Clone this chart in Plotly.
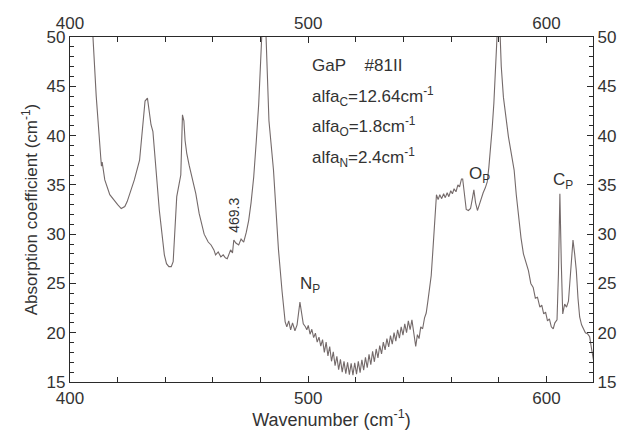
import plotly.graph_objects as go

# ---- data ----
wavenumber_a = [408.5, 409.5, 411.0, 412.9, 413.2, 413.5, 414.6, 416.7, 418.5, 420.0, 421.5, 423.0,
                424.0, 425.0, 427.0, 429.2, 430.5, 431.5, 432.5, 433.3, 434.0, 434.8, 435.4, 436.5,
                437.5, 439.6, 440.5, 441.5, 442.5, 443.3, 444.2, 444.8, 445.8, 446.5, 447.2, 447.8,
                448.3, 449.0, 450.0, 452.8, 454.2, 456.3, 458.0, 459.2, 460.4, 461.1, 462.2, 463.3,
                464.3, 465.2, 466.0, 467.4, 468.2, 468.75, 469.6, 470.8, 471.8, 472.9, 474.0, 475.0,
                476.0, 477.1, 478.2, 479.2, 480.0, 480.5, 481.2, 482.0, 482.6, 483.5, 485.4, 487.5,
                489.0, 489.6, 490.3, 491.0, 491.8, 492.6, 493.4, 494.4, 495.3, 496.5, 497.2, 497.9,
                498.8, 499.4]
absorption_a = [55.0, 50.5, 44.0, 37.8, 36.9, 37.3, 35.5, 34.0, 33.4, 33.0, 32.6, 32.8,
                33.3, 34.0, 35.5, 37.5, 40.5, 43.5, 43.8, 42.0, 41.1, 40.4, 38.5, 35.5,
                32.4, 27.9, 27.0, 26.7, 26.7, 27.2, 30.5, 33.8, 35.1, 36.0, 42.1, 41.5,
                39.5, 38.2, 37.0, 34.1, 32.1, 30.0, 29.2, 28.9, 28.4, 27.9, 28.2, 27.7,
                27.9, 27.6, 27.5, 28.4, 28.1, 29.4, 29.1, 28.9, 29.5, 29.2, 30.2, 31.4,
                33.2, 35.8, 39.5, 43.2, 47.5, 52.0, 54.0, 52.0, 47.0, 41.5, 36.5, 28.4,
                24.2, 22.9, 21.1, 20.6, 21.2, 20.3, 21.0, 20.2, 20.8, 23.1, 22.0, 20.9,
                20.6, 20.3]

wavenumber_b = [500.0, 500.75, 501.5, 502.25, 503.0, 503.75, 504.5, 505.25, 506.0, 506.75, 507.5,
                508.25, 509.0, 509.75, 510.5, 511.25, 512.0, 512.75, 513.5, 514.25, 515.0, 515.75,
                516.5, 517.25, 518.0, 518.75, 519.5, 520.25, 521.0, 521.75, 522.5, 523.25, 524.0,
                524.75, 525.5, 526.25, 527.0, 527.75, 528.5, 529.25, 530.0, 530.75, 531.5, 532.25,
                533.0, 533.75, 534.5, 535.25, 536.0, 536.75, 537.5, 538.25, 539.0, 539.75, 540.5,
                541.25, 542.0, 542.75, 543.5]
absorption_b = [20.75, 19.85, 20.35, 19.5, 19.95, 19.05, 19.55, 18.65, 19.3, 18.0, 19.05,
                17.65, 18.6, 17.1, 18.05, 16.65, 17.6, 16.25, 17.3, 16.0, 17.1, 15.85,
                17.0, 15.75, 16.9, 15.7, 16.95, 15.8, 17.1, 15.95, 17.25, 16.2, 17.5,
                16.45, 17.8, 16.75, 18.1, 17.05, 18.35, 17.45, 18.7, 17.85, 19.05, 18.25,
                19.4, 18.55, 19.7, 18.85, 20.0, 19.15, 20.3, 19.45, 20.6, 19.75, 20.9,
                20.0, 21.2, 20.3, 21.3]

wavenumber_c = [544.3, 545.1, 545.8, 546.5, 547.2, 548.0, 548.8, 549.5, 550.2, 551.0, 551.6, 552.2,
                552.8, 553.3, 553.8, 554.5, 555.2, 556.0, 556.8, 557.5, 558.3, 559.0, 559.8, 560.5,
                561.2, 562.0, 562.8, 563.5, 564.3, 564.8, 565.5, 566.3, 567.2, 568.1, 568.8, 569.5,
                570.2, 571.0, 571.8, 572.5, 573.4, 574.3, 575.1, 575.8, 576.5, 577.2, 577.9, 578.6,
                579.2, 579.8, 580.4, 581.0, 581.9, 583.0, 584.0, 585.2, 586.4, 587.3, 588.2, 589.3,
                590.3, 591.3, 592.4, 593.4, 594.4, 595.3, 596.2, 597.2, 598.0, 598.8, 599.6, 600.4,
                601.2, 602.0, 602.8, 603.5, 604.4, 605.0, 605.6, 606.2, 606.8, 607.6, 608.4, 609.2,
                610.2, 611.1, 611.8, 612.5, 613.2, 613.9, 614.7, 615.5, 616.3, 617.2, 618.1, 618.8,
                619.4, 620.0]
absorption_c = [19.8, 18.6, 19.8, 19.4, 20.6, 20.4, 21.5, 22.0, 23.2, 24.5, 25.8, 28.0,
                30.5, 33.2, 34.0, 33.5, 34.0, 33.6, 34.1, 33.7, 34.2, 33.8, 34.4, 34.1,
                34.6, 34.3, 35.0, 34.8, 35.6, 35.6, 34.0, 32.5, 32.4, 32.6, 33.5, 34.5,
                33.2, 32.4, 33.0, 33.6, 34.2, 34.7, 35.3, 36.8, 38.5, 40.8, 43.3, 46.5,
                50.0, 53.0, 51.0, 47.0, 43.9, 41.7, 39.9, 38.2, 36.5, 34.0, 31.7, 29.6,
                28.0, 27.2, 26.3, 25.0, 24.6, 23.5, 23.6, 22.6, 22.8, 21.9, 22.1, 21.2,
                21.4, 20.6, 20.4, 21.0, 21.3, 26.0, 34.1, 27.0, 21.9, 22.9, 22.6, 23.2,
                26.5, 29.4, 28.0, 26.3, 23.5, 21.6, 20.8, 20.4, 20.0, 19.9, 19.6, 18.5,
                17.5, 16.8]

wavenumber = wavenumber_a + wavenumber_b + wavenumber_c
absorption = absorption_a + absorption_b + absorption_c

x_range = [400, 619.5]
y_range = [15, 50]
x_ticks = [400, 500, 600]
y_ticks = [15, 20, 25, 30, 35, 40, 45, 50]

FONT = "Liberation Sans, Arial, sans-serif"
TXT = "#333333"
AX = "#2a2a2a"

fig = go.Figure()
fig.add_trace(go.Scatter(x=wavenumber, y=absorption, mode="lines",
                         line=dict(color="#746a6a", width=1.1),
                         showlegend=False, hoverinfo="skip", cliponaxis=True))
# invisible trace to anchor the top/right mirror axes
fig.add_trace(go.Scatter(x=[x_range[0]], y=[y_range[0]], xaxis="x2", yaxis="y2",
                         mode="markers", marker=dict(opacity=0), showlegend=False,
                         hoverinfo="skip"))

axis_common = dict(showgrid=False, zeroline=False, showline=True, linecolor=AX,
                   linewidth=1.2, ticks="inside", tickcolor=AX, tickwidth=1,
                   tickfont=dict(family=FONT, size=17, color=TXT))

fig.update_layout(
    width=628, height=436,
    margin=dict(l=70, r=32, t=37, b=54),
    paper_bgcolor="white", plot_bgcolor="white",
    font=dict(family=FONT, color=TXT),
    xaxis=dict(range=x_range, tickvals=x_ticks, ticklen=6,
               minor=dict(dtick=20, tick0=400, ticks="inside", ticklen=5, tickcolor=AX),
               title=dict(text="Wavenumber (cm<sup>-1</sup>)", font=dict(family=FONT, size=18, color=TXT),
                          standoff=2),
               **axis_common),
    xaxis2=dict(range=x_range, tickvals=x_ticks, ticklen=6, overlaying="x", side="top",
                anchor="y2",
                minor=dict(dtick=20, tick0=400, ticks="inside", ticklen=5, tickcolor=AX),
                **axis_common),
    yaxis=dict(range=y_range, tickvals=y_ticks, ticklen=6,
               minor=dict(dtick=1, tick0=15, ticks="inside", ticklen=4, tickcolor=AX),
               title=dict(text="Absorption coefficient (cm<sup>-1</sup>)",
                          font=dict(family=FONT, size=17, color=TXT), standoff=4),
               **axis_common),
    yaxis2=dict(range=y_range, tickvals=y_ticks, ticklen=6, overlaying="y", side="right",
                anchor="x2",
                minor=dict(dtick=1, tick0=15, ticks="inside", ticklen=4, tickcolor=AX),
                **axis_common),
)

ann_font = dict(family=FONT, size=17, color=TXT)
notes = [
    (500.8, 47.1, "GaP    #81II"),
    (500.8, 44.0, "alfa<sub>C</sub>=12.64cm<sup>-1</sup>"),
    (500.8, 40.9, "alfa<sub>O</sub>=1.8cm<sup>-1</sup>"),
    (500.8, 37.8, "alfa<sub>N</sub>=2.4cm<sup>-1</sup>"),
    (566.8, 36.0, "O<sub>P</sub>"),
    (602.0, 35.4, "C<sub>P</sub>"),
    (495.8, 24.8, "N<sub>P</sub>"),
]
for x, y, t in notes:
    fig.add_annotation(x=x, y=y, text=t, showarrow=False, xanchor="left", yanchor="middle",
                       font=ann_font)
fig.add_annotation(x=469.0, y=31.9, text="469.3", showarrow=False, textangle=-90,
                   xanchor="center", yanchor="middle",
                   font=dict(family=FONT, size=14, color=TXT))

fig.write_html("out.html")
